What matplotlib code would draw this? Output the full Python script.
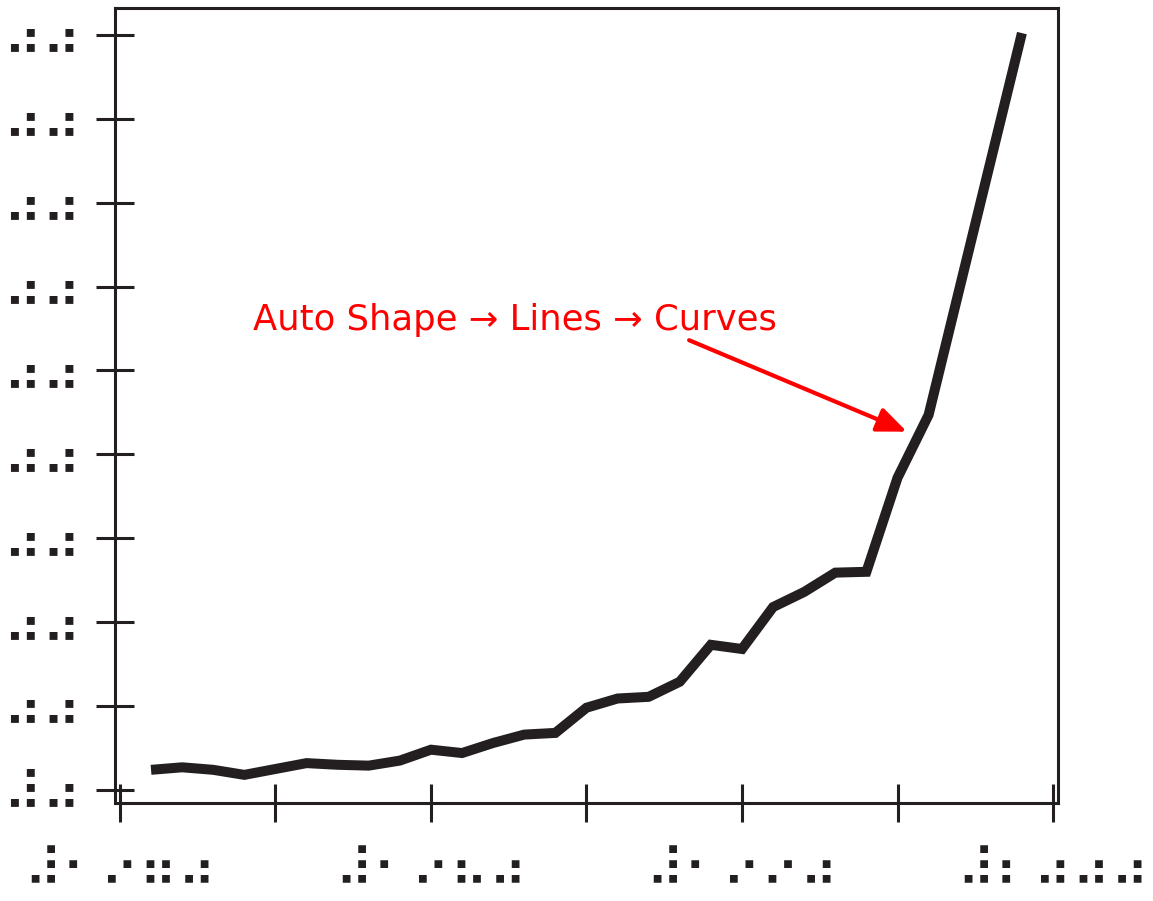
import matplotlib
matplotlib.use("Agg")
import matplotlib.pyplot as plt

# yearly values
years = [1971, 1972, 1973, 1974, 1975, 1976, 1977, 1978, 1979, 1980,
         1981, 1982, 1983, 1984, 1985, 1986, 1987, 1988, 1989, 1990,
         1991, 1992, 1993, 1994, 1995, 1996, 1999]
values = [0.24, 0.27, 0.24, 0.18, 0.25, 0.32, 0.30, 0.29, 0.35, 0.48,
          0.44, 0.56, 0.66, 0.68, 0.98, 1.09, 1.11, 1.29, 1.73, 1.68,
          2.18, 2.36, 2.59, 2.60, 3.72, 4.47, 9.02]

xticks = [1970, 1975, 1980, 1985, 1990, 1995, 2000]
xlabels = ['⠼⠂⠔⠶⠴', '', '⠼⠂⠔⠦⠴', '', '⠼⠂⠔⠔⠴', '', '⠼⠆⠴⠴⠴']
yticks = [0, 1, 2, 3, 4, 5, 6, 7, 8, 9]
ylabels = ['⠼⠴'] + ['⠴⠴'] * 9

note = 'Auto Shape → Lines → Curves'
note_xy = (1982.7, 5.60)
arrow_from = (1988.3, 5.36)
arrow_to = (1995.3, 4.27)

ink = '#231f20'

fig = plt.figure(figsize=(11.53, 9.01), dpi=100)
ax = fig.add_axes([0.0997, 0.1088, 0.8179, 0.8824])

ax.plot(years, values, color=ink, lw=7.2, solid_joinstyle='miter', solid_capstyle='butt')

ax.set_xlim(1969.84, 2000.16)
ax.set_ylim(-0.155, 9.32)

ax.set_xticks(xticks)
ax.set_xticklabels(xlabels, fontsize=38, family='DejaVu Sans')
ax.set_yticks(yticks)
ax.set_yticklabels(ylabels, fontsize=39, family='DejaVu Sans')
ax.tick_params(direction='inout', length=27, width=2.2, color=ink, labelcolor=ink)
ax.tick_params(axis='x', pad=18)
ax.tick_params(axis='y', pad=11)

for s in ax.spines.values():
    s.set_linewidth(2.2)
    s.set_color(ink)

ax.text(note_xy[0], note_xy[1], note, color='red', fontsize=25.5,
        ha='center', va='center')
ax.annotate('', xy=arrow_to, xytext=arrow_from,
            arrowprops=dict(arrowstyle='-|>,head_length=0.6,head_width=0.25',
                            color='red', lw=3,
                            mutation_scale=30, shrinkA=0, shrinkB=0))

fig.savefig('out.png', dpi=100)
